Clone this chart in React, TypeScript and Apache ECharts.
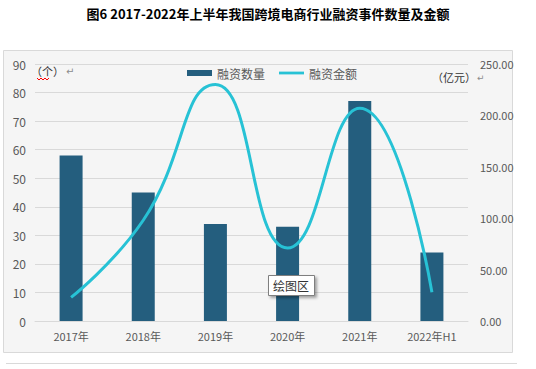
import React, { useEffect, useRef } from "react";
import * as echarts from "echarts";

const categories = ["2017年", "2018年", "2019年", "2020年", "2021年", "2022年H1"];
const countValues = [58, 45, 34, 33, 77, 24];
const amountValues = [23, 98, 230, 71, 207, 28];
const leftTicks = { min: 0, max: 90, interval: 10 };
const rightTicks = { min: 0, max: 250, interval: 50 };
const titleText = "图6 2017-2022年上半年我国跨境电商行业融资事件数量及金额";

export default function App() {
  const ref = useRef<HTMLDivElement>(null);
  useEffect(() => {
    const chart = echarts.init(ref.current!, null, { renderer: "svg" });
    const font = "'Microsoft YaHei', 'Noto Sans CJK SC', sans-serif";
    const gray = "#595959";
    chart.setOption({
      animation: false,
      backgroundColor: "#ffffff",
      textStyle: { fontFamily: font },
      graphic: [
        {
          type: "rect",
          z: -10,
          shape: { x: 3.5, y: 50.5, width: 509, height: 302 },
          style: { fill: "#f5f5f5", stroke: "#d9d9d9", lineWidth: 1 },
          silent: true,
        },
        {
          type: "line",
          shape: { x1: 6, y1: 363.5, x2: 517, y2: 363.5 },
          style: { stroke: "#d9d9d9", lineWidth: 1 },
          silent: true,
        },
        {
          type: "text",
          left: "center",
          top: 7,
          style: {
            text: titleText,
            font: "bold 13px 'Noto Sans CJK SC', sans-serif",
            fill: "#000000",
          },
        },
        {
          type: "text",
          x: 31,
          y: 65,
          style: { text: "（个）", font: "11px 'Noto Sans CJK SC', sans-serif", fill: "#333333" },
        },
        {
          type: "polyline",
          shape: { points: [[37, 78], [39, 80], [41, 78], [43, 80], [45, 78], [47, 80], [49, 78]] },
          style: { stroke: "#ff0000", lineWidth: 1, fill: "none" },
        },
        {
          type: "text",
          x: 66,
          y: 66,
          style: { text: "↵", font: "10px 'DejaVu Sans', sans-serif", fill: "#8c8c8c" },
        },
        {
          type: "text",
          x: 432,
          y: 71,
          style: { text: "（亿元）", font: "11px 'Noto Sans CJK SC', sans-serif", fill: "#333333" },
        },
        {
          type: "text",
          x: 477,
          y: 73,
          style: { text: "↵", font: "9px 'DejaVu Sans', sans-serif", fill: "#8c8c8c" },
        },
        {
          type: "rect",
          z: 50,
          shape: { x: 268.5, y: 275.5, width: 46, height: 20 },
          style: {
            fill: "#ffffff",
            stroke: "#7f7f7f",
            lineWidth: 1,
            shadowBlur: 3,
            shadowOffsetX: 2,
            shadowOffsetY: 2,
            shadowColor: "rgba(0,0,0,0.35)",
          },
        },
        {
          type: "text",
          z: 51,
          x: 273,
          y: 279,
          style: { text: "绘图区", font: "12px 'Noto Sans CJK SC', sans-serif", fill: "#333333" },
        },
      ],
      legend: {
        left: 182,
        top: 62,
        itemWidth: 25,
        itemHeight: 6,
        itemGap: 14,
        textStyle: { color: gray, fontSize: 12, fontFamily: font },
        data: [
          { name: "融资数量", icon: "rect" },
          { name: "融资金额", icon: "path://M0,0h27v3h-27z" },
        ],
      },
      grid: { left: 35, right: 68, top: 64, bottom: 48 },
      xAxis: {
        type: "category",
        data: categories,
        axisLine: { lineStyle: { color: "#d9d9d9" } },
        axisTick: { show: false },
        axisLabel: { color: gray, fontSize: 11, margin: 9 },
      },
      yAxis: [
        {
          type: "value",
          min: leftTicks.min,
          max: leftTicks.max,
          interval: leftTicks.interval,
          axisLine: { show: false },
          axisTick: { show: false },
          axisLabel: { color: gray, fontSize: 12, margin: 9 },
          splitLine: { lineStyle: { color: "#d9d9d9" } },
        },
        {
          type: "value",
          min: rightTicks.min,
          max: rightTicks.max,
          interval: rightTicks.interval,
          axisLine: { show: false },
          axisTick: { show: false },
          axisLabel: {
            color: gray,
            fontSize: 11,
            margin: 12,
            formatter: (v: number) => v.toFixed(2),
          },
          splitLine: { show: false },
        },
      ],
      series: [
        {
          name: "融资数量",
          type: "bar",
          data: countValues,
          barWidth: 23,
          itemStyle: { color: "#245e7e" },
        },
        {
          name: "融资金额",
          type: "line",
          yAxisIndex: 1,
          data: amountValues,
          smooth: 0.5,
          symbol: "none",
          lineStyle: { color: "#27c2d5", width: 3 },
          itemStyle: { color: "#27c2d5" },
        },
      ],
    });
    return () => chart.dispose();
  }, []);
  return (
    <div
      ref={ref}
      style={{ position: "fixed", left: 0, top: 0, width: 536, height: 369 }}
    />
  );
}
